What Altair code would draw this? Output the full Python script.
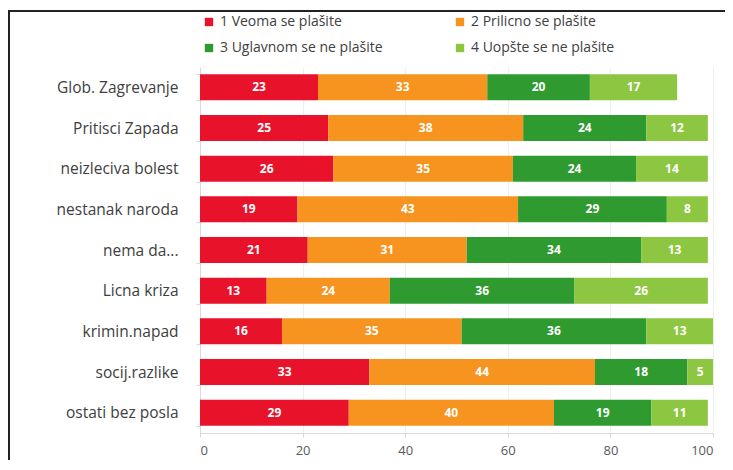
import altair as alt
import pandas as pd

categories = ["Glob. Zagrevanje", "Pritisci Zapada", "neizleciva bolest", "nestanak naroda",
              "nema da...", "Licna kriza", "krimin.napad", "socij.razlike", "ostati bez posla"]
series = ["1 Veoma se plašite", "2 Prilicno se plašite", "3 Uglavnom se ne plašite", "4 Uopšte se ne plašite"]
colors = ["#E8132B", "#F7941F", "#2F9A30", "#8DC641"]
s1 = [23, 25, 26, 19, 21, 13, 16, 33, 29]
s2 = [33, 38, 35, 43, 31, 24, 35, 44, 40]
s3 = [20, 24, 24, 29, 34, 36, 36, 18, 19]
s4 = [17, 12, 14, 8, 13, 26, 13, 5, 11]

rows = []
for i, c in enumerate(categories):
    for j, vals in enumerate([s1, s2, s3, s4]):
        rows.append({"cat": c, "series": series[j], "idx": j, "value": vals[i]})
df = pd.DataFrame(rows)

base = alt.Chart(df).transform_stack(
    stack="value", as_=["x0", "x1"], groupby=["cat"], sort=[{"field": "idx", "order": "ascending"}]
).transform_calculate(mid="(datum.x0 + datum.x1) / 2")

yenc = alt.Y("cat:N", sort=categories, title=None,
             scale=alt.Scale(paddingInner=0.36, paddingOuter=0.18),
             axis=alt.Axis(labelFont="Open Sans", labelFontSize=15.5, labelColor="#404040",
                           labelPadding=18, domainColor="#D9D9D9", tickColor="#D9D9D9",
                           ticks=True, tickBand="extent", tickSize=4, grid=False))

bars = base.mark_bar().encode(
    x=alt.X("x0:Q", title=None, scale=alt.Scale(domain=[0, 100], nice=False),
            axis=alt.Axis(values=[0, 20, 40, 60, 80, 100], labelFont="Open Sans", labelFontSize=13,
                          labelColor="#595959", labelPadding=7, domainColor="#D9D9D9",
                          tickColor="#D9D9D9", tickSize=4, grid=True, gridColor="#EEEEEE")),
    x2="x1:Q",
    y=yenc,
    color=alt.Color("series:N", sort=series, scale=alt.Scale(domain=series, range=colors),
                    legend=alt.Legend(title=None, orient="none", legendX=2, legendY=-52,
                                      columns=2, direction="horizontal", symbolType="square",
                                      symbolSize=70, symbolStrokeWidth=0, labelFont="Open Sans",
                                      labelFontSize=14, labelColor="#404040", columnPadding=70,
                                      rowPadding=12, labelOffset=4, labelLimit=400)),
)

texts = base.mark_text(color="white", fontWeight="bold", font="Open Sans", fontSize=12).encode(
    x=alt.X("mid:Q"),
    y=alt.Y("cat:N", sort=categories),
    text=alt.Text("value:Q"),
)

frame_top = alt.Chart(pd.DataFrame({"a": [0]})).mark_rule(color="#222222", strokeWidth=2).encode(
    x=alt.value(-192), x2=alt.value(525), y=alt.value(-56))
frame_left = alt.Chart(pd.DataFrame({"a": [0]})).mark_rule(color="#222222", strokeWidth=2).encode(
    x=alt.value(-191), y=alt.value(-57), y2=alt.value(393))

chart = alt.layer(bars, texts, frame_top, frame_left).properties(
    width=513, height=366,
    autosize=alt.AutoSizeParams(type="none"),
    padding={"left": 192, "top": 59, "right": 12, "bottom": 27},
).configure_view(stroke=None)

chart.save("out.html", embed_options={"renderer": "svg", "actions": False})
